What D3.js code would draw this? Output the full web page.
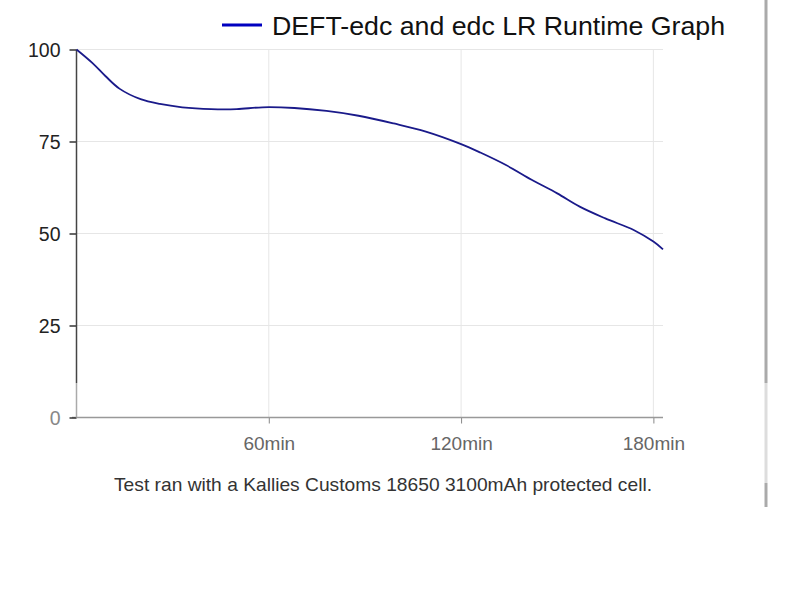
<!DOCTYPE html>
<html><head><meta charset="utf-8">
<script src="https://cdn.jsdelivr.net/npm/d3@7"></script>
<style>body{margin:0;background:#fff;}svg{display:block;font-family:"Liberation Sans",Arial,sans-serif;}</style>
</head><body>
<svg id="c" width="799" height="599"></svg>
<script>
const minutes = [0,5,9,13.5,20,26,33,42,50,58,68,78,88,99,109,120,126,134,142,150,157,165,174,180,183];
const runtime = [100,96.3,92.8,89.3,86.5,85.2,84.3,83.8,83.8,84.3,84.1,83.3,82.0,79.9,77.7,74.3,72.0,68.6,64.6,60.9,57.3,54.1,50.9,47.8,45.7];
const yTicks = [0,25,50,75,100];
const xTicks = [60,120,180];
const xTickLabels = ["60min","120min","180min"];
const seriesName = "DEFT-edc and edc LR Runtime Graph";
const caption = "Test ran with a Kallies Customs 18650 3100mAh protected cell.";

const svg = d3.select("#c");
const x = d3.scaleLinear().domain([0,183]).range([76.5,663]);
const y = d3.scaleLinear().domain([0,100]).range([417.5,49.5]);

// gridlines
svg.append("g").selectAll("line").data(yTicks.filter(d=>d>0)).join("line")
  .attr("x1",77).attr("x2",663).attr("y1",d=>y(d)).attr("y2",d=>y(d))
  .attr("stroke","#e6e6e6").attr("stroke-width",1);
svg.append("g").selectAll("line").data(xTicks).join("line")
  .attr("x1",d=>x(d)).attr("x2",d=>x(d)).attr("y1",49.5).attr("y2",417.5)
  .attr("stroke","#e6e6e6").attr("stroke-width",1);

// x axis
const xAxis = d3.axisBottom(x).tickValues(xTicks).tickSize(6).tickFormat((d,i)=>xTickLabels[i]);
const gx = svg.append("g").attr("transform","translate(0,417.5)").call(xAxis);
gx.select(".domain").remove();
gx.selectAll(".tick line").attr("stroke","#888");
gx.selectAll(".tick text").attr("font-size",19).attr("fill","#666").attr("dy",null).attr("y",32)
  .attr("font-family","Liberation Sans, Arial, sans-serif");
svg.append("line").attr("x1",72).attr("x2",663).attr("y1",417.5).attr("y2",417.5).attr("stroke","#999").attr("stroke-width",1.5);

// y axis
const yAxis = d3.axisLeft(y).tickValues(yTicks).tickSize(7).tickPadding(9);
const gy = svg.append("g").attr("transform","translate(76.5,0)").call(yAxis);
gy.select(".domain").remove();
gy.selectAll(".tick line").attr("stroke","#333").attr("stroke-width",1.5);
gy.selectAll(".tick text").attr("font-size",19.5).attr("fill",d=>d===0?"#888":"#222")
  .attr("dy","0.36em").attr("font-family","Liberation Sans, Arial, sans-serif");
svg.append("line").attr("x1",76.5).attr("x2",76.5).attr("y1",y(100)).attr("y2",383).attr("stroke","#444").attr("stroke-width",1.5);
svg.append("line").attr("x1",76.5).attr("x2",76.5).attr("y1",383).attr("y2",417.5).attr("stroke","#aaa").attr("stroke-width",1.5);

// series line
const line = d3.line().x((d,i)=>x(minutes[i])).y(d=>y(d)).curve(d3.curveCatmullRom.alpha(0.5));
svg.append("path").datum(runtime).attr("d",line).attr("fill","none")
  .attr("stroke","#1a1a8a").attr("stroke-width",1.8);

// legend
svg.append("line").attr("x1",222).attr("x2",262).attr("y1",25).attr("y2",25).attr("stroke","#0000c0").attr("stroke-width",3);
svg.append("text").attr("x",272).attr("y",35).attr("font-size",26.5).attr("fill","#111")
  .attr("textLength",453).attr("lengthAdjust","spacingAndGlyphs").text(seriesName);

// caption
svg.append("text").attr("x",383).attr("y",491).attr("text-anchor","middle").attr("font-size",19)
  .attr("fill","#333").attr("textLength",538).attr("lengthAdjust","spacingAndGlyphs").text(caption);

// right border strip
svg.append("line").attr("x1",766).attr("x2",766).attr("y1",0).attr("y2",383).attr("stroke","#aaa").attr("stroke-width",3);
svg.append("line").attr("x1",766).attr("x2",766).attr("y1",383).attr("y2",483).attr("stroke","#ddd").attr("stroke-width",3);
svg.append("line").attr("x1",766).attr("x2",766).attr("y1",483).attr("y2",507).attr("stroke","#aaa").attr("stroke-width",3);
</script>
</body></html>
